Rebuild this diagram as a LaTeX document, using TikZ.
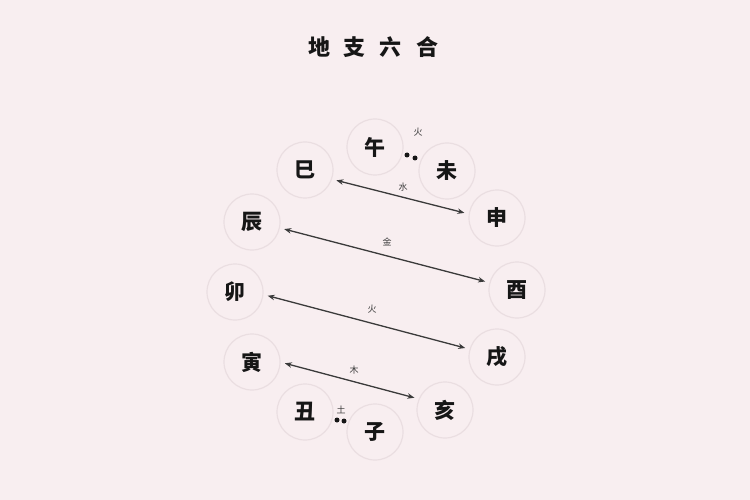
\documentclass[tikz,border=0pt]{standalone}
\usepackage{fontspec}
\newfontfamily\cjk{Noto Sans CJK SC}
\usetikzlibrary{arrows.meta}
\definecolor{bgpink}{HTML}{F8EEF0}
\definecolor{ringc}{HTML}{EADEE1}
\definecolor{inkc}{HTML}{161616}
\definecolor{linec}{HTML}{3A3A3A}
\tikzset{
  branch/.style={circle, draw=ringc, line width=1.2pt, minimum size=56pt, inner sep=0pt, outer sep=0pt,
    font=\cjk\bfseries\fontsize{21}{21}\selectfont, text=inkc},
  elem/.style={inner sep=0pt, font=\cjk\fontsize{9}{9}\selectfont, text=linec},
  pairarrow/.style={draw=linec, line width=1.3pt, {Stealth[length=7pt,width=5.5pt]}-{Stealth[length=7pt,width=5.5pt]}, shorten <=5pt, shorten >=5pt},
  dotc/.style={fill=inkc}
}
\begin{document}
\begin{tikzpicture}[x=1pt,y=-1pt]
\fill[bgpink] (0,0) rectangle (750,500);
\useasboundingbox (0,0) rectangle (750,500);
\node[font=\cjk\bfseries\fontsize{22}{22}\selectfont, text=inkc] (title) at (373,47) {地\hspace{14pt}支\hspace{14pt}六\hspace{14pt}合};
\node[branch] (wu) at (375,147) {午};
\node[branch] (wei) at (447,171) {未};
\node[branch] (si) at (305,170) {巳};
\node[branch] (shen) at (497,218) {申};
\node[branch] (chen) at (252,222) {辰};
\node[branch] (you) at (517,290) {酉};
\node[branch] (mao) at (235,292) {卯};
\node[branch] (xu) at (497,357) {戌};
\node[branch] (yin) at (252,362) {寅};
\node[branch] (hai) at (445,410) {亥};
\node[branch] (chou) at (305,412) {丑};
\node[branch] (zi) at (375,432) {子};
\draw[pairarrow] (si.-19) -- (shen.172);
\draw[pairarrow] (chen.-12) -- (you.165);
\draw[pairarrow] (mao.-5) -- (xu.164);
\draw[pairarrow] (yin.0) -- (hai.157);
\node[elem] (shui) at (403,187) {水};
\node[elem] (jin) at (387,242) {金};
\node[elem] (huo2) at (372,309) {火};
\node[elem] (mu) at (354,370) {木};
\node[elem] (huo1) at (418,132) {火};
\node[elem] (tu) at (341,410) {土};
\fill[dotc] (407,155) circle (2.5pt);
\fill[dotc] (415,158) circle (2.5pt);
\fill[dotc] (337,420) circle (2.5pt);
\fill[dotc] (344,421) circle (2.5pt);
\end{tikzpicture}
\end{document}
